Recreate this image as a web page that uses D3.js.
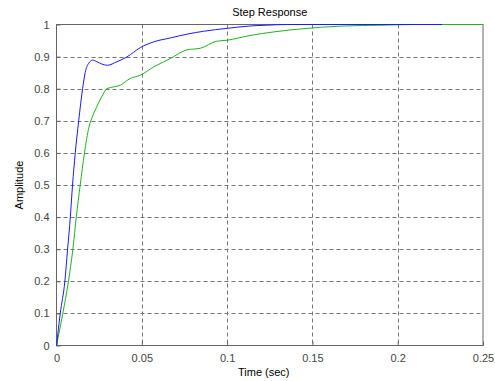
<!DOCTYPE html>
<html><head><meta charset="utf-8">
<script src="https://cdn.jsdelivr.net/npm/d3@7"></script>
<style>body{margin:0;background:#fff}svg{display:block;font-family:"Liberation Sans",Arial,sans-serif}</style>
</head><body><div id="chart"></div>
<script>
const title = "Step Response";
const xLabel = "Time (sec)";
const yLabel = "Amplitude";
const xTicks = [0, 0.05, 0.1, 0.15, 0.2, 0.25];
const yTicks = [0, 0.1, 0.2, 0.3, 0.4, 0.5, 0.6, 0.7, 0.8, 0.9, 1];

const blueT = [0, 0.0022, 0.0049, 0.0065, 0.0081, 0.0094, 0.011, 0.013, 0.0153, 0.0168, 0.019, 0.0212, 0.0237, 0.0265, 0.0298, 0.0354, 0.0413, 0.0491, 0.057, 0.0667, 0.0765, 0.0863, 0.1, 0.1127, 0.1235, 0.1355, 0.226];
const blueV = [0, 0.1, 0.2, 0.3, 0.4, 0.5, 0.6, 0.7, 0.8, 0.85, 0.88, 0.889, 0.884, 0.877, 0.873, 0.884, 0.899, 0.928, 0.946, 0.958, 0.970, 0.979, 0.988, 0.995, 0.998, 1.0, 1.0];

const greenT = [0, 0.0037, 0.0070, 0.0096, 0.0116, 0.0139, 0.0164, 0.0190, 0.0212, 0.0237, 0.0265, 0.0296, 0.0374, 0.0433, 0.0491, 0.057, 0.0667, 0.0765, 0.0843, 0.094, 0.1, 0.1127, 0.1274, 0.145, 0.1665, 0.192, 0.21, 0.25];
const greenV = [0, 0.1, 0.2, 0.3, 0.4, 0.5, 0.6, 0.68, 0.715, 0.745, 0.775, 0.80, 0.811, 0.832, 0.842, 0.868, 0.894, 0.921, 0.926, 0.948, 0.951, 0.965, 0.977, 0.987, 0.995, 0.998, 1.0, 1.0];

const W = 495, H = 381;
const m = {left: 56.5, right: 483, top: 24.5, bottom: 345.5};
const svg = d3.select("#chart").append("svg").attr("width", W).attr("height", H);
const x = d3.scaleLinear().domain([0, 0.25]).range([m.left, m.right]);
const y = d3.scaleLinear().domain([0, 1]).range([m.bottom, m.top]);

const grid = svg.append("g").attr("stroke", "#777").attr("stroke-dasharray", "4,3").attr("stroke-width", 1);
xTicks.slice(1, -1).forEach(t => grid.append("line").attr("x1", Math.round(x(t)) + 0.5).attr("x2", Math.round(x(t)) + 0.5).attr("y1", m.top).attr("y2", m.bottom));
yTicks.slice(1, -1).forEach(t => grid.append("line").attr("y1", Math.round(y(t)) + 0.5).attr("y2", Math.round(y(t)) + 0.5).attr("x1", m.left).attr("x2", m.right));

svg.append("rect").attr("x", m.left).attr("y", m.top).attr("width", m.right - m.left).attr("height", m.bottom - m.top)
  .attr("fill", "none").attr("stroke", "#666").attr("stroke-width", 1);

const xAxis = svg.append("g").attr("transform", `translate(0,${m.bottom})`)
  .call(d3.axisBottom(x).tickValues(xTicks).tickFormat(d3.format("~g")).tickSizeInner(-4).tickSizeOuter(0).tickPadding(9));
const yAxis = svg.append("g").attr("transform", `translate(${m.left},0)`)
  .call(d3.axisLeft(y).tickValues(yTicks).tickFormat(d3.format("~g")).tickSizeInner(-4).tickSizeOuter(0).tickPadding(7));
[xAxis, yAxis].forEach(a => {
  a.select(".domain").remove();
  a.selectAll("line").attr("stroke", "#666");
  a.selectAll("text").attr("fill", "#444").attr("font-size", 11).attr("font-family", "Liberation Sans, Arial, sans-serif");
});

const line = d3.line().x(d => x(d[0])).y(d => y(d[1])).curve(d3.curveMonotoneX);
svg.append("path").datum(greenT.map((t, i) => [t, greenV[i]])).attr("d", line)
  .attr("fill", "none").attr("stroke", "#1db31d").attr("stroke-width", 1);
svg.append("path").datum(blueT.map((t, i) => [t, blueV[i]])).attr("d", line)
  .attr("fill", "none").attr("stroke", "#1a1aff").attr("stroke-width", 1);

svg.append("text").attr("x", (m.left + m.right) / 2).attr("y", 16).attr("text-anchor", "middle")
  .attr("font-size", 11).attr("fill", "#000").text(title);
svg.append("text").attr("x", (m.left + m.right) / 2 - 6).attr("y", 376).attr("text-anchor", "middle")
  .attr("font-size", 11).attr("fill", "#000").text(xLabel);
svg.append("text").attr("transform", `translate(23,${(m.top + m.bottom) / 2}) rotate(-90)`).attr("text-anchor", "middle")
  .attr("font-size", 11).attr("fill", "#000").text(yLabel);
</script></body></html>
